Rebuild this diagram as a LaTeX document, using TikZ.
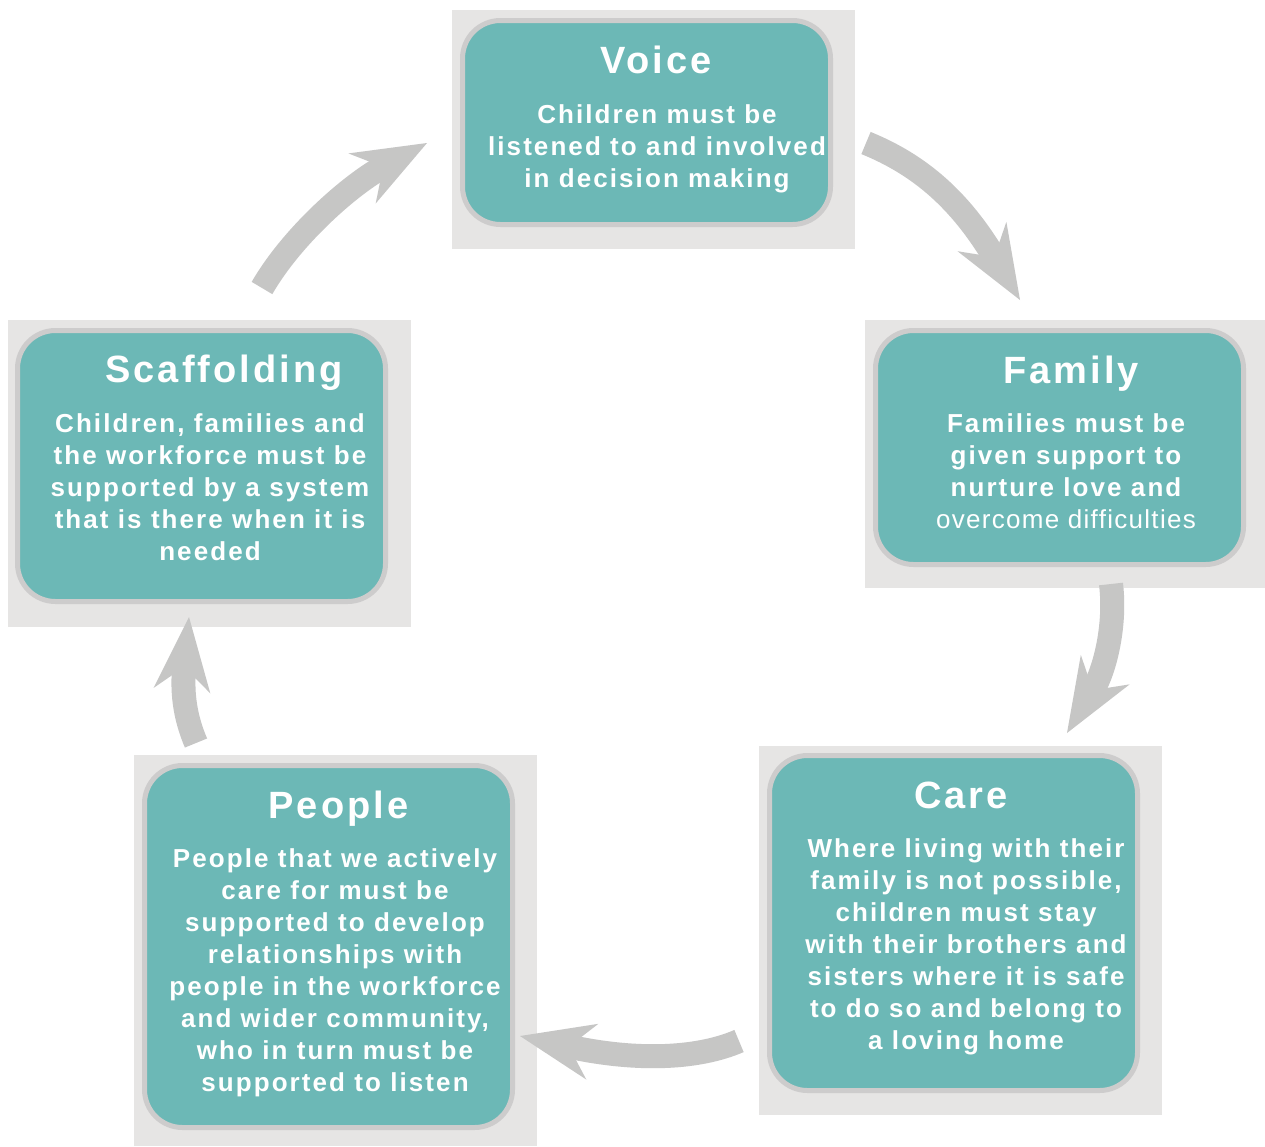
\documentclass[tikz,border=0pt]{standalone}
\usepackage{fontspec}
\setmainfont{Liberation Sans}[LetterSpace=8,Ligatures=CommonOff]
\usepackage{tikz}
\usetikzlibrary{arrows.meta}
\definecolor{tealbox}{HTML}{6CB8B6}
\definecolor{rim}{HTML}{CDCCCC}
\definecolor{backdrop}{HTML}{E6E5E4}
\definecolor{arrowgrey}{HTML}{C6C6C5}

\begin{document}
\begin{tikzpicture}[x=1pt,y=-1pt]
   \tikzstyle{back} = [fill=backdrop]
   \tikzstyle{box} = [draw=rim,fill=tealbox,line width=5pt,
     rounded corners=38pt,minimum width=368pt,inner sep=0pt]
   \tikzstyle{ttl} = [text=white,inner sep=0pt,anchor=base,
     font=\bfseries\fontsize{38}{42}\selectfont]
   \tikzstyle{txt} = [text=white,inner sep=0pt,anchor=north,align=center,
     font=\bfseries\fontsize{26}{32}\selectfont]
   \tikzstyle{flow} = [draw=arrowgrey,line width=24pt,
     -{Stealth[length=74pt,width=57pt,inset=24pt,line width=0pt]}]
   \fill[white] (0,0) rectangle (1265,1146);
   \useasboundingbox (0,0) rectangle (1265,1146);
    %%
    \fill[back] (452,10) rectangle (855,249);
    \node[box,minimum height=204pt] (voice) at (646.5,122.5) {};
    \node[ttl] (voicet) at (656,73) {Voice};
    \node[txt] (voiceb) at (657,104) {Children must be\\listened to and involved\\in decision making};
    %%
    \fill[back] (865,320) rectangle (1265,588);
    \node[box,minimum height=234pt] (family) at (1059.5,447.5) {};
    \node[ttl] (familyt) at (1071,383) {Family};
    \node[txt] (familyb) at (1066,413) {Families must be\\given support to\\nurture love and\\{\mdseries\addfontfeature{LetterSpace=5}overcome difficulties}};
    %%
    \fill[back] (759,746) rectangle (1162,1115);
    \node[box,minimum height=335pt] (care) at (953.5,923) {};
    \node[ttl] (caret) at (961,808) {Care};
    \node[txt] (careb) at (966,838) {Where living with their\\family is not possible,\\children must stay\\with their brothers and\\sisters where it is safe\\to do so and belong to\\a loving home};
    %%
    \fill[back] (134,755) rectangle (537,1146);
    \node[box,minimum height=362pt] (people) at (328.5,946.5) {};
    \node[ttl] (peoplet) at (338.5,818) {People};
    \node[txt] (peopleb) at (335,848) {People that we actively\\care for must be\\supported to develop\\relationships with\\people in the workforce\\and wider community,\\who in turn must be\\supported to listen};
    %%
    \fill[back] (8,320) rectangle (411,627);
    \node[box,minimum height=271pt] (scaff) at (201.5,466) {};
    \node[ttl] (scafft) at (224,382) {Scaffolding};
    \node[txt] (scaffb) at (210,413) {Children, families and\\the workforce must be\\supported by a system\\that is there when it is\\needed};
    %%
    \coordinate (s1) at (262,288);  \coordinate (e1) at (427,143);
    \coordinate (s2) at (866,143);  \coordinate (e2) at (1020,300);
    \coordinate (s3) at (1111,584); \coordinate (e3) at (1067,733);
    \coordinate (s4) at (739,1041); \coordinate (e4) at (520,1036);
    \coordinate (s5) at (196,743);  \coordinate (e5) at (189,617);
    \draw[flow] (s1) .. controls (292,236) and (350,185) .. (e1);
    \draw[flow] (s2) .. controls (920,165) and (960,200) .. (e2);
    \draw[flow] (s3) .. controls (1116,625) and (1105,670) .. (e3);
    \draw[flow] (s4) .. controls (700,1058) and (640,1062) .. (e4);
    \draw[flow] (s5) .. controls (184,715) and (182,690) .. (e5);
\end{tikzpicture}
\end{document}
